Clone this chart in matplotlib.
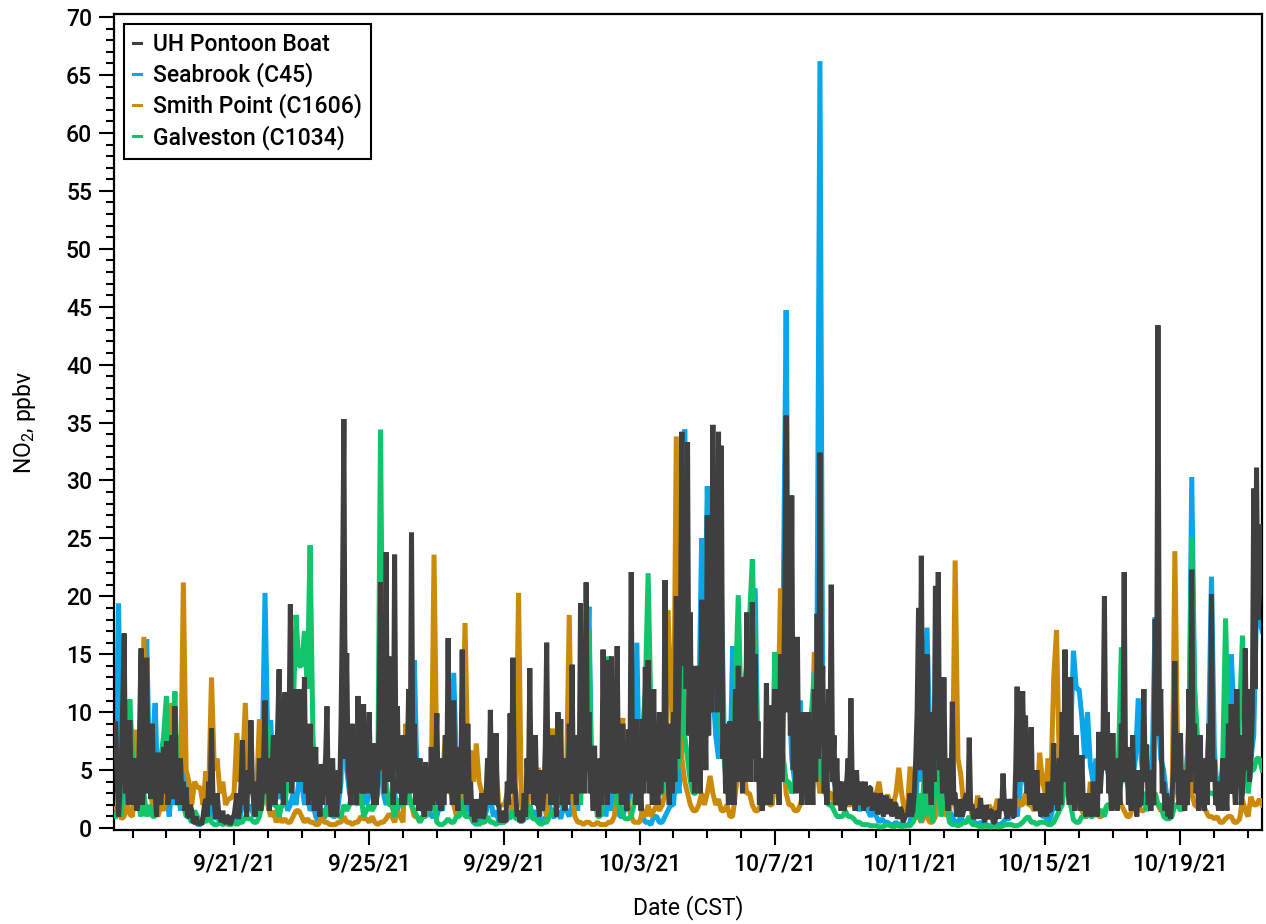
import datetime as dt
import matplotlib
matplotlib.use("Agg")
import matplotlib.pyplot as plt
import matplotlib.dates as mdates
from matplotlib.ticker import MultipleLocator, FixedLocator, NullFormatter

# ---------------------------------------------------------------------------
# NO2 mixing ratios (ppbv).  The pontoon boat record is hourly, the three
# fixed sites are 2-hourly; every series starts 2021-09-17 12:00 CST.
# One row per calendar day.
# ---------------------------------------------------------------------------
start_time = dt.datetime(2021, 9, 17, 12)
uh_step_hours = 1
site_step_hours = 2

uh_pontoon = [
    [9, 4, 1, 3, 6, 11, 16.8, 3, 5, 2, 9.3, 4],                                                       # 9/17 (12-23 h)
    [2, 4, 6, 1.5, 3, 9, 15.5, 2, 4, 8, 14.7, 3, 7, 2.5, 9, 4, 3, 1, 6.5, 3, 2, 4, 7, 3],              # 9/18
    [7.5, 2, 3, 5, 8, 2.5, 10.5, 4, 2, 3, 6, 2, 4, 1.5, 3.5, 1, 1, 2, 1.5, 0.5, 0.5, 1, 0.3, 0.5],     # 9/19
    [0.5, 0.3, 1, 2, 2.5, 1, 4, 2, 8.6, 3, 2, 0.8, 3, 1.5, 1, 0.5, 1.5, 0.5, 0.5, 1, 1, 0.3, 0.5, 1],  # 9/20
    [1, 2, 3, 0.8, 1.5, 4, 7.6, 2, 3, 1, 5, 3, 9.3, 4, 2, 1, 4, 2, 6, 1.5, 3, 6, 11, 3],               # 9/21
    [6, 1.5, 3, 5, 8, 2, 4, 9, 13.7, 3, 6, 2, 11.7, 4, 5, 8, 19.3, 3, 8, 4, 12, 5, 4, 8],              # 9/22
    [12, 4, 13, 3, 5, 2, 9, 3, 4, 1.5, 7, 2, 3, 1, 5.5, 2, 4.5, 6, 10.5, 2, 3, 1, 6, 2],               # 9/23
    [2, 1, 5, 3, 9.3, 20, 35.3, 6, 15.1, 5, 4, 2, 9, 3, 5, 2, 11.4, 4, 6, 3, 10.7, 3, 8, 4],           # 9/24
    [10, 3, 5, 2, 7.3, 2, 4, 9, 21.2, 5, 9, 3, 23.8, 4, 14.8, 6, 8, 2, 23.6, 5, 10.5, 3, 6, 2],        # 9/25
    [8, 2, 4, 6, 12, 3, 25.5, 5, 9, 2, 4, 1.5, 6, 2, 3, 1, 5.7, 2, 4, 1.5, 7, 2, 3, 5],                # 9/26
    [9.9, 2, 3, 1.5, 6, 2, 8, 3, 16.4, 4, 5, 2, 11, 3, 4, 1.5, 7, 3, 15.4, 3, 5, 2, 9, 3],             # 9/27
    [4, 1, 1.5, 0.5, 2.5, 1, 1, 2, 3, 0.8, 1.5, 3, 6, 2, 10.2, 3, 4, 2, 8.2, 2, 2, 0.5, 1, 0.5],       # 9/28
    [1.5, 0.5, 4, 2, 9.9, 3, 14.7, 4, 3, 1, 1.5, 0.5, 1, 0.5, 3, 1, 6, 3, 13.8, 3, 5, 2, 8, 2],        # 9/29
    [2, 1, 5, 1.5, 3, 7, 16, 3, 6, 2, 8, 3, 3, 1, 10, 3, 9.4, 2, 4, 1.5, 6, 2, 9, 3],                  # 9/30
    [14.1, 3, 5, 2, 8, 3, 19.4, 4, 9, 3, 21.2, 5, 10, 3, 4, 1.5, 7.1, 2, 3, 1, 6, 2, 15.4, 4],         # 10/1
    [6, 2, 14.5, 5, 14.8, 3, 8, 3, 15.7, 4, 6, 2, 9, 3, 4, 1.5, 8.5, 3, 22.1, 4, 6, 2, 9.4, 3],        # 10/2
    [4, 1.5, 9.4, 3, 13.9, 4, 14.5, 3, 6, 2, 12, 3, 5, 2, 10, 3, 6, 4, 21.4, 4, 5, 2, 9, 3],           # 10/3
    [10, 4, 20, 6, 12, 18, 34.2, 14, 30, 12, 33.3, 8, 18.6, 4, 9, 3, 14, 4, 8, 3, 19.7, 6, 13, 5],     # 10/4
    [27, 8, 22, 10, 34.8, 12, 30, 10, 34.2, 12, 33, 6, 9, 3, 6, 2, 9.2, 3, 5, 2, 12, 4, 14, 5],        # 10/5
    [8, 3, 13, 4, 18.6, 5, 10, 4, 19.5, 6, 15, 4, 9.2, 2, 4, 1.5, 6, 2, 12.5, 3, 5, 2, 10.6, 3],       # 10/6
    [12, 3, 7, 2, 15, 4, 10, 20, 35.6, 10, 27.8, 8, 28.7, 5, 12, 3, 16.5, 4, 8, 2, 10, 3, 6, 2],       # 10/7
    [10, 3, 5, 2, 12, 4, 18.5, 6, 32.4, 8, 14, 3, 8, 2, 12, 5, 21, 4, 8, 2, 6, 2, 4, 1.5],             # 10/8
    [4, 1.5, 2, 4, 6, 2, 11.2, 3, 3, 1.5, 5, 2, 2.5, 4, 3, 1.5, 4, 2, 2, 3.5, 3.5, 1.5, 2.5, 3],       # 10/9
    [2.6, 1.2, 1.5, 3, 2.5, 1, 2, 2.8, 1.2, 1.8, 2.5, 1, 1.5, 2.2, 2, 0.8, 1.2, 1.8, 1.5, 0.5, 0.8, 1.2, 1, 2],  # 10/10
    [3, 1, 1.5, 3, 6, 10, 19, 5, 23.5, 6, 7, 3, 15, 4, 5, 2, 10, 4, 20.9, 6, 22.1, 5, 8, 3],           # 10/11
    [13, 4, 3, 1.5, 6, 2, 10.9, 3, 3, 1, 2, 1, 2.5, 1, 1.5, 2.5, 3, 1.5, 7.8, 2, 2, 0.8, 1, 1.5],      # 10/12
    [1.5, 0.8, 2.6, 1.2, 1, 0.5, 2, 1, 0.8, 1.5, 1.5, 0.5, 0.5, 1, 1.5, 0.8, 2.5, 1.5, 4.7, 2, 1.5, 0.8, 2.5, 1.5],  # 10/13
    [2.5, 1, 1, 5, 12.2, 4, 6, 10, 11.8, 4, 9.7, 3, 4, 2, 8.7, 3, 3, 1.5, 5, 2, 2, 1, 3, 1.5],         # 10/14
    [2, 1, 4, 1.5, 1.5, 3, 7.3, 2, 3, 1.5, 6, 2, 10, 4, 15.4, 4, 5, 2, 13, 3, 4, 1.5, 8, 3],           # 10/15
    [4, 1.5, 6.3, 2, 2, 1, 3, 1.5, 2.6, 1, 4, 1.5, 2, 1, 8.3, 3, 5, 8, 20, 5, 10, 3, 4, 1.5],          # 10/16
    [8.2, 2, 3, 1.5, 6, 2, 9, 4, 22.1, 5, 7, 2, 4, 1.5, 8, 3, 3, 1, 5, 2, 2, 5, 12, 4],                # 10/17
    [7.2, 2, 3, 1.5, 5, 2, 18, 8, 43.4, 10, 12, 3, 4, 1.5, 3, 1, 1.5, 0.8, 3, 5, 14.4, 4, 6, 2],       # 10/18
    [8.2, 2, 4, 1.5, 5, 2, 12, 4, 22.3, 5, 9, 3, 4, 1.5, 8, 2, 3, 1.5, 6, 2, 9, 4, 20.2, 5],           # 10/19
    [5.9, 2, 3, 1.5, 4, 1.5, 6, 2, 3, 1.5, 9, 3, 10.7, 3, 4, 2, 12, 4, 8, 2, 3, 6, 15.5, 5],           # 10/20
    [12, 4, 6, 10, 29.3, 12, 31.1, 18, 20, 26],                                                        # 10/21 (00-09 h)
]

seabrook_c45 = [
    [4, 19.4, 3, 5, 2, 3],                               # 9/17 (12-22 h)
    [3, 1.5, 4, 2, 9, 16.3, 5, 7, 10.8, 3, 5, 2],        # 9/18
    [3, 1, 4, 2, 3.5, 1.5, 5.6, 2, 1, 0.5, 0.8, 0.3],    # 9/19
    [0.3, 0.5, 0.8, 1, 2, 0.8, 1, 0.5, 0.3, 0.5, 0.3, 0.5],
    [0.5, 1, 0.8, 2, 3, 1.5, 2, 1, 1.5, 4, 6, 20.3],
    [7, 9.3, 4, 5, 2.5, 4, 3, 1.5, 2, 3, 2, 4],
    [4, 2, 3, 1.5, 2, 1, 0.5, 1.5, 0.8, 2, 1.5, 1],
    [1, 2, 4, 20, 5, 3, 2, 3, 4, 2, 3.6, 2],
    [3, 5, 2, 4, 6, 3, 2, 3, 2, 3, 1.5, 2.5],
    [2, 3, 2, 8, 14.5, 4, 3, 1.5, 1, 2, 1, 1],
    [1, 2, 1.5, 4, 6, 3, 13.4, 5, 2, 3, 1.5, 2],
    [1, 0.5, 0.3, 0.5, 1, 0.8, 2, 3, 1, 1.5, 0.5, 0.5],
    [0.5, 1, 0.8, 2, 1.5, 0.8, 0.5, 1, 0.8, 2, 1, 1.5],
    [1, 0.5, 0.8, 1, 2, 1, 1, 1.5, 0.8, 2, 1.5, 1],
    [2, 3, 1.5, 6.8, 4, 10, 19.1, 4, 2, 2, 1.5, 3],      # 10/1
    [1, 3, 1.5, 4, 2, 1, 1, 2, 1.5, 5, 3, 16],
    [3, 1, 0.5, 0.5, 0.3, 1, 1, 0.5, 0.5, 1, 1.5, 2],
    [2, 5, 3, 10, 34.4, 18, 10, 6, 4, 10, 25, 14],
    [29.5, 20, 12, 8, 6, 21, 8, 6, 4, 15.7, 8, 6],
    [6, 8, 5, 14, 9, 20.7, 6, 3, 2, 4, 3, 2],
    [5, 8, 4, 20, 44.7, 12, 6, 4, 6, 11, 4, 3],
    [4, 10, 6, 18, 66.2, 10, 8, 5, 8, 4, 3, 2],
    [2, 3, 2, 5, 3, 2, 1.5, 2, 2, 1.5, 1, 1.5],
    [1, 0.5, 0.8, 0.5, 0.5, 0.3, 0.3, 0.5, 0.3, 0.3, 0.2, 0.2],
    [0.5, 2, 1, 8, 4, 10, 17.3, 8, 5, 6.8, 4, 5],        # 10/11
    [3, 2, 1.5, 1, 0.5, 0.5, 1, 0.5, 0.5, 1, 0.5, 0.5],
    [0.3, 0.5, 0.3, 0.3, 0.2, 0.2, 0.5, 0.3, 0.3, 0.5, 0.8, 0.8],
    [1, 1.5, 1, 3, 10, 4, 2.6, 5, 3, 2, 1.5, 1],
    [1, 0.5, 1, 2, 3, 2, 4, 6, 5, 8, 15.3, 12],
    [12, 9.5, 6, 10, 5.4, 4, 6, 4, 7.8, 6, 5, 4],
    [3, 2, 3, 4, 5, 4, 3, 4, 6, 11.2, 6, 4],
    [5, 4, 6, 18.2, 10, 6, 5, 3, 2, 2, 4, 3],
    [4, 3, 5, 8, 30.3, 12, 6, 4, 3, 4, 8, 21.7],
    [7, 3, 4, 5, 8, 6, 15, 10, 6, 6, 4, 8],
    [5, 6, 8, 19, 18, 17],                               # 10/21 (00-10 h)
]

smith_point_c1606 = [
    [1.7, 1.5, 0.8, 1, 2, 1.2],
    [1, 8.5, 2, 3, 16.5, 5, 4, 2, 1.5, 1, 2, 1.5],
    [3, 6, 10.8, 4, 8, 3, 21.2, 5, 4, 2, 4, 3.5],
    [3.5, 2, 4.9, 3, 13, 5, 6, 3, 4, 2, 2.5, 2.6],
    [3, 8.2, 4, 5, 10.8, 4, 4, 2.5, 3, 9.4, 4, 3],
    [2, 1, 1.5, 0.5, 1, 0.5, 0.8, 0.5, 0.5, 1, 1.5, 1.5],
    [1, 0.5, 0.8, 0.5, 0.5, 0.3, 0.3, 1, 0.5, 0.5, 0.3, 0.3],
    [0.3, 0.5, 0.5, 1, 0.5, 0.5, 0.3, 0.5, 0.5, 1, 0.8, 0.8],
    [0.5, 1, 0.5, 0.3, 0.5, 0.5, 0.8, 1.2, 1, 0.5, 1.5, 1],
    [0.5, 9, 3, 2, 1, 1, 0.5, 1, 1, 2, 3, 23.6],
    [5, 3, 4, 8, 4, 3, 2, 1, 1, 6, 17.7, 6],
    [6.7, 4, 7.3, 4, 3, 3, 2, 4, 3, 5.3, 2, 2],
    [2, 3, 2, 1.5, 4, 20.3, 2, 1, 1, 4, 3, 3],
    [5.2, 3, 2, 1, 4, 8.6, 3, 2, 3, 2, 4, 18.4],
    [3, 1, 0.5, 0.5, 0.3, 0.5, 0.5, 0.3, 0.3, 0.5, 0.3, 0.3],
    [0.3, 0.5, 0.5, 1, 3, 6, 9.5, 4, 2, 1, 0.5, 0.5],
    [0.5, 1.5, 1, 2, 1, 1.5, 2, 1.5, 2, 3, 18.8, 12.7],
    [6, 33.8, 12, 6, 4, 3, 2, 1.5, 1.5, 2, 3, 2],
    [3, 4.5, 3, 2, 2.5, 1.5, 1.5, 2, 1, 1, 3, 5],
    [12.2, 5, 3, 3, 2, 1.5, 1.5, 2, 2, 3, 2, 2],
    [4, 8, 20.7, 6, 3, 2, 2, 1.5, 1.5, 2, 3, 2.5],
    [3, 5, 15.2, 5, 3, 4, 4, 3, 3, 2, 2.5, 2],
    [2, 3, 2, 2, 3, 2, 2.5, 2, 2, 3, 2, 2],
    [3, 4, 2, 2, 2.9, 2, 2, 3, 5.2, 3, 1.5, 1.5],
    [5.3, 2, 1, 1, 0.5, 1, 1, 0.5, 0.5, 1, 3, 2],
    [2, 1, 1.5, 3, 23.1, 6, 4.6, 2, 2, 3, 1, 1],
    [2.8, 1.5, 1, 1, 2, 1.5, 1.5, 2.5, 2, 2, 1.5, 1.5],
    [2, 1.5, 2.5, 2, 2, 3, 2, 2, 1.5, 2, 6.5, 4],
    [3, 6, 4, 13, 17.1, 5, 5, 3, 3, 2.5, 2, 2],
    [2, 1.5, 1, 1, 4, 1.5, 1.5, 1, 1, 1.5, 2, 2],
    [2, 1.8, 2.5, 2, 1.5, 1, 1, 1.8, 2, 2, 1.5, 1.5],
    [2, 4.5, 3, 3, 2, 1.5, 1.5, 2, 1.5, 1.5, 23.9, 6],
    [2, 1.5, 3, 10, 3, 2, 1.8, 2, 2, 1.5, 1, 1],
    [0.8, 1, 0.5, 0.5, 0.8, 1, 1, 0.5, 0.5, 0.8, 2.5, 1.5],
    [1, 2.7, 2, 2, 2.5, 2],
]

galveston_c1034 = [
    [1, 2, 1, 6, 4, 11.1],
    [6, 2, 2, 1, 3, 1, 2, 1, 1, 4, 6, 8],
    [11.4, 4, 5, 11.8, 3, 2, 2, 1, 1, 0.5, 1.5, 1],
    [0.3, 0.8, 0.5, 1, 0.5, 0.3, 0.3, 0.5, 0.3, 0.5, 0.3, 0.3],
    [0.5, 0.3, 0.5, 0.5, 1, 0.8, 0.8, 0.5, 0.5, 1, 2, 4],
    [8.9, 3, 2, 2, 1, 2, 2, 4, 6, 10, 18.4, 14],
    [14, 17, 12, 24.4, 8, 3, 2, 1.5, 1.5, 1, 2, 1.5],
    [1.5, 1, 1, 2, 1.5, 2, 3, 2.3, 2, 3, 1, 1.5],
    [2, 1.5, 2, 3, 34.4, 6, 4, 2, 2, 1, 2.5, 2],
    [2, 4, 3, 2, 1.5, 1, 0.5, 1, 1, 1.5, 2, 2],
    [0.5, 0.3, 0.3, 0.5, 0.8, 0.5, 0.5, 1, 1, 2.5, 1, 1],
    [1, 0.5, 0.5, 0.3, 0.5, 0.5, 1, 0.5, 0.5, 0.3, 0.5, 0.5],
    [0.5, 1, 1, 1.5, 0.8, 0.8, 0.5, 1, 1, 2, 0.8, 0.8],
    [0.5, 0.3, 0.5, 0.5, 1, 1.5, 1.5, 2, 2, 4, 5, 7.4],
    [6, 3, 3, 2, 8, 10, 17.1, 3, 3, 1, 1, 2],
    [3, 14.8, 10, 6, 2, 2, 1, 0.8, 0.8, 1, 2, 4],
    [5, 8, 12, 22, 10, 6, 4, 3, 3, 6.8, 6, 4],
    [4, 5, 6, 16.6, 8, 6, 4, 3, 3, 5, 8, 8],
    [8, 15, 12, 22.9, 12, 8, 6, 3, 3, 8, 12, 20.1],
    [10, 12, 14, 18, 23.2, 14, 6, 5, 4, 3, 3, 5],
    [15.2, 8, 8, 6, 4, 4, 3, 4, 5, 8, 6, 6],
    [6, 10, 13.4, 8, 5, 4, 3, 2, 2, 1.5, 1, 1],
    [1, 1.5, 1, 1, 0.8, 0.5, 0.5, 0.3, 0.3, 0.3, 0.2, 0.2],
    [0.2, 0.1, 0.1, 0.2, 0.3, 0.2, 0.1, 0.2, 0.2, 0.1, 0.2, 0.2],
    [0.2, 0.5, 1, 3, 0.5, 4.5, 1, 5, 0.5, 4, 5, 1],
    [3, 2, 0.5, 0.3, 0.3, 0.2, 0.3, 0.5, 0.5, 1, 0.3, 0.3],
    [0.2, 0.1, 0.1, 0.2, 0.1, 0.1, 0.2, 0.1, 0.1, 0.2, 0.3, 0.3],
    [0.3, 0.2, 0.2, 0.3, 0.5, 0.8, 1, 0.5, 0.5, 0.3, 0.5, 0.5],
    [0.5, 0.3, 0.3, 0.5, 1, 1.5, 2, 4, 3, 2, 0.7, 0.5],
    [0.5, 1, 1, 1.5, 1, 1, 2, 1.5, 1.5, 1, 2, 2],
    [2, 4, 6, 15.6, 6, 4, 3, 2, 2, 4, 3, 3],
    [1.5, 2, 2, 3, 2, 2, 1, 0.8, 0.8, 1, 2, 2],
    [1.5, 2, 2, 6, 25.1, 12, 8, 5, 5, 4, 3, 3],
    [3, 2, 2, 6, 18.1, 8, 8, 4, 4, 10, 16.6, 8],
    [3, 5, 5, 6, 6, 5],
]

series_labels = ["UH Pontoon Boat", "Seabrook (C45)", "Smith Point (C1606)", "Galveston (C1034)"]
series_colors = ["#3f3f3f", "#0aa6ea", "#cc8a0a", "#12c46a"]
date_tick_labels = ["9/21/21", "9/25/21", "9/29/21", "10/3/21",
                    "10/7/21", "10/11/21", "10/15/21", "10/19/21"]


def flatten(rows):
    out = []
    for r in rows:
        out.extend(r)
    return out


def time_axis(n, step):
    return [start_time + dt.timedelta(hours=step * i) for i in range(n)]


series_values = [flatten(s) for s in (uh_pontoon, seabrook_c45, smith_point_c1606, galveston_c1034)]
series_steps = [uh_step_hours, site_step_hours, site_step_hours, site_step_hours]
series_times = [time_axis(len(v), st) for v, st in zip(series_values, series_steps)]

plt.rcParams["font.family"] = ["Roboto", "DejaVu Sans"]
plt.rcParams["font.weight"] = "medium"
plt.rcParams["mathtext.default"] = "regular"

fig = plt.figure(figsize=(12.66, 9.24), dpi=100)
ax = fig.add_axes([0.0903, 0.1017, 0.9065, 0.8831])

# Seabrook, Smith Point and Galveston underneath, pontoon boat on top
draw_order = [1, 2, 3, 0]
line_widths = [3.6, 3.6, 3.6, 3.6]
for z, idx in enumerate(draw_order):
    ax.plot(series_times[idx], series_values[idx], color=series_colors[idx],
            lw=line_widths[idx], solid_joinstyle="bevel", zorder=2 + z)

ax.set_xlim(dt.datetime(2021, 9, 17, 11, 0), dt.datetime(2021, 10, 21, 9, 50))
ax.set_ylim(-0.17, 70.26)

major_dates = [mdates.date2num(dt.datetime.strptime(s, "%m/%d/%y")) for s in date_tick_labels]
ax.xaxis.set_major_locator(FixedLocator(major_dates))
ax.set_xticklabels(date_tick_labels)
ax.xaxis.set_minor_locator(mdates.DayLocator())
ax.xaxis.set_minor_formatter(NullFormatter())

ax.yaxis.set_major_locator(MultipleLocator(5))
ax.yaxis.set_minor_locator(MultipleLocator(1))

for side in ax.spines.values():
    side.set_linewidth(1.6)
ax.tick_params(which="major", direction="out", length=11, width=1.5, labelsize=16.5, pad=5)
ax.tick_params(which="minor", direction="out", length=6, width=1.5)

ax.set_xlabel("Date (CST)", fontsize=16.5, labelpad=14)
ax.set_ylabel(r"NO$_2$, ppbv", fontsize=16.5, labelpad=20)

handles = [plt.Line2D([], [], color=c, lw=2.2) for c in series_colors]
leg = ax.legend(handles, series_labels, loc="upper left", bbox_to_anchor=(0.0085, 0.9877),
                borderaxespad=0, fontsize=16.5, handlelength=0.35, handletextpad=0.5,
                labelspacing=0.28, borderpad=0.4, frameon=True, fancybox=False,
                framealpha=1, edgecolor="black")
leg.get_frame().set_linewidth(1.5)
leg.set_zorder(10)

fig.savefig("out.png", dpi=100)
